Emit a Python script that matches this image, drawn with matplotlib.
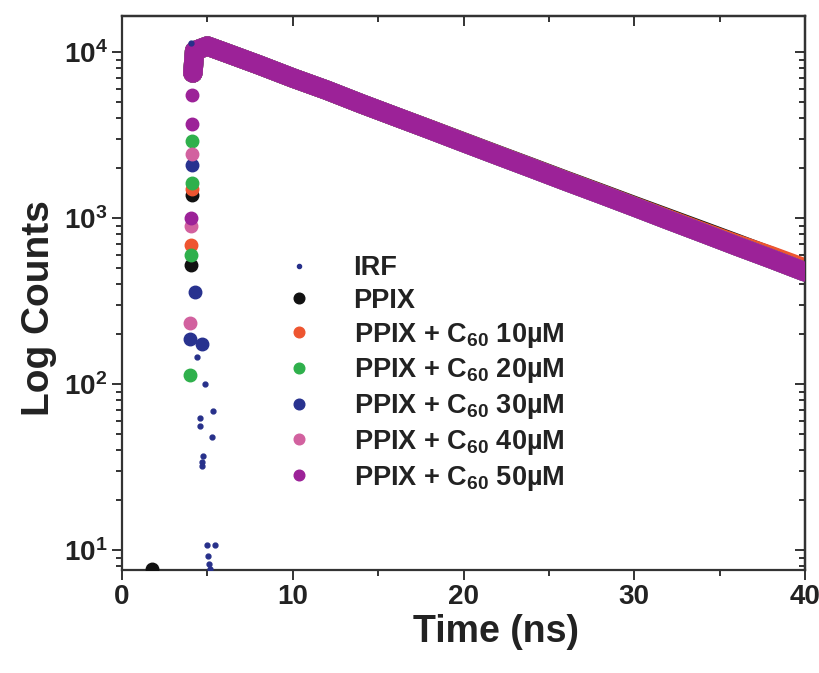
import matplotlib.pyplot as plt
from matplotlib.ticker import LogLocator, MultipleLocator, NullFormatter

plt.rcParams['font.family'] = ['Liberation Sans', 'DejaVu Sans']
plt.rcParams['font.weight'] = 'bold'
plt.rcParams['mathtext.default'] = 'regular'

# IRF (instrument response), small dots
irf_t = [4.06, 4.41, 4.88, 5.35, 4.59, 4.59, 5.29, 4.76, 4.71, 4.71, 5.0, 5.47, 5.06, 5.12, 5.18]
irf_c = [11300, 145, 100, 69, 63, 56, 48, 37, 34, 32, 10.7, 10.7, 9.2, 8.3, 7.7]

ppix_rise_t = [1.76, 4.05, 4.10]
ppix_rise_c = [7.7, 520, 1390]
c10_rise_t = [4.05, 4.10]
c10_rise_c = [690, 1500]
c20_rise_t = [4.00, 4.05, 4.10, 4.12]
c20_rise_c = [113, 600, 1630, 2900]
c30_rise_t = [4.00, 4.70, 4.30, 4.10]
c30_rise_c = [187, 174, 360, 2100]
c40_rise_t = [4.00, 4.05, 4.10]
c40_rise_c = [235, 900, 2450]
c50_rise_t = [4.02, 4.08, 4.12]
c50_rise_c = [1000, 3700, 5500]

# decay (read along the centre of the band)
decay_t = [4.15, 4.25, 5.0, 6, 8, 10, 12, 14, 16, 18, 20, 22, 24, 26, 28, 30, 32, 34, 36, 38, 40]
c50_decay = [7500, 10200, 10900, 10000, 8400, 7000, 5900, 4900, 4100, 3430, 2860, 2390,
             2000, 1670, 1400, 1170, 975, 815, 680, 570, 475]
ppix_decay = [7500, 10200, 10900, 10000, 8400, 7000, 5900, 4900, 4100, 3440, 2880, 2410,
              2020, 1690, 1420, 1190, 1000, 840, 705, 590, 490]
c10_decay = [7500, 10200, 10900, 10000, 8400, 7000, 5900, 4900, 4100, 3440, 2870, 2400,
             2010, 1680, 1410, 1180, 990, 830, 700, 595, 500]

labels = ['IRF', 'PPIX', 'PPIX + C$_{60}$ 10µM', 'PPIX + C$_{60}$ 20µM',
          'PPIX + C$_{60}$ 30µM', 'PPIX + C$_{60}$ 40µM', 'PPIX + C$_{60}$ 50µM']
colors = ['#27308a', '#111111', '#ee5530', '#2fb04c', '#28328f', '#d2619f', '#9c2298']

fig = plt.figure(figsize=(8.19, 6.73), dpi=100)
ax = fig.add_axes([0.149, 0.153, 0.834, 0.823])

band_lw = 14
ms = 9

# decay bands (underneath first, 50 uM on top)
ax.plot(decay_t, ppix_decay, color=colors[1], lw=band_lw, solid_capstyle='round', zorder=2)
ax.plot(decay_t, c10_decay, color=colors[2], lw=band_lw, solid_capstyle='round', zorder=2)
for c in colors[3:6]:
    ax.plot(decay_t, c50_decay, color=c, lw=band_lw, solid_capstyle='round', zorder=2)
ax.plot(decay_t, c50_decay, color=colors[6], lw=band_lw, solid_capstyle='round', zorder=3)

# scatter points (these also make the legend)
ax.plot(irf_t, irf_c, 'o', color=colors[0], ms=3.5, label=labels[0], zorder=5)
ax.plot(ppix_rise_t, ppix_rise_c, 'o', color=colors[1], ms=ms, label=labels[1], zorder=4)
ax.plot(c10_rise_t, c10_rise_c, 'o', color=colors[2], ms=ms, label=labels[2], zorder=4)
ax.plot(c20_rise_t, c20_rise_c, 'o', color=colors[3], ms=ms, label=labels[3], zorder=4)
ax.plot(c30_rise_t, c30_rise_c, 'o', color=colors[4], ms=ms, label=labels[4], zorder=4)
ax.plot(c40_rise_t, c40_rise_c, 'o', color=colors[5], ms=ms, label=labels[5], zorder=4)
ax.plot(c50_rise_t, c50_rise_c, 'o', color=colors[6], ms=ms, label=labels[6], zorder=4)

ax.set_yscale('log')
ax.set_xlim(0, 40)
ax.set_ylim(7.6, 16500)

ax.xaxis.set_major_locator(MultipleLocator(10))
ax.xaxis.set_minor_locator(MultipleLocator(5))
ax.yaxis.set_major_locator(LogLocator(base=10, numticks=10))
ax.yaxis.set_minor_locator(LogLocator(base=10, subs=range(2, 10), numticks=10))
ax.yaxis.set_minor_formatter(NullFormatter())

spine_col = '#333333'
for s in ax.spines.values():
    s.set_linewidth(1.6)
    s.set_color(spine_col)
ax.tick_params(which='both', direction='out', colors=spine_col, width=1.4, labelsize=20,
               labelcolor='#222222')
ax.tick_params(which='major', length=7)
ax.tick_params(which='minor', length=4)
ax.tick_params(axis='x', pad=3)

# mirrored ticks pointing inwards on top and right
top = ax.secondary_xaxis('top')
top.xaxis.set_major_locator(MultipleLocator(10))
top.xaxis.set_minor_locator(MultipleLocator(5))
top.tick_params(which='both', direction='in', labeltop=False, colors=spine_col, width=1.4)
top.tick_params(which='major', length=7)
top.tick_params(which='minor', length=4)
top.spines['top'].set_linewidth(1.6)
right = ax.secondary_yaxis('right')
right.yaxis.set_major_locator(LogLocator(base=10, numticks=10))
right.yaxis.set_minor_locator(LogLocator(base=10, subs=range(2, 10), numticks=10))
right.tick_params(which='both', direction='in', labelright=False, colors=spine_col, width=1.4)
right.tick_params(which='major', length=7)
right.tick_params(which='minor', length=4)
right.spines['right'].set_linewidth(1.6)

ax.set_xlabel('Time (ns)', fontsize=27, fontweight='bold', color='#222222')
ax.set_ylabel('Log Counts', fontsize=28, fontweight='bold', color='#222222')
ax.xaxis.set_label_coords(0.548, -0.080)
ax.yaxis.set_label_coords(-0.095, 0.473)

ax.legend(loc='upper left', bbox_to_anchor=(0.216, 0.603), frameon=False, fontsize=19.5,
          handlelength=0.8, handletextpad=1.6, labelspacing=0.25, borderpad=0.2,
          markerscale=0.85, labelcolor='#222222')

fig.savefig('out.png', dpi=100)
